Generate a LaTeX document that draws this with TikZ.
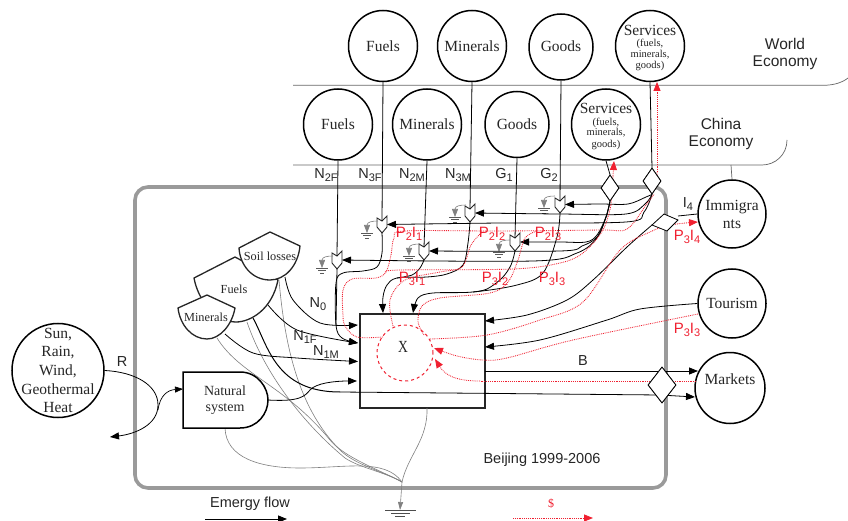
\documentclass[tikz,border=0pt]{standalone}
\usepackage{fontspec}
\setmainfont{Liberation Serif}
\newfontfamily\lsans{Liberation Sans}
\usetikzlibrary{shapes.geometric,arrows.meta}
\definecolor{ink}{HTML}{262626}
\definecolor{rd}{HTML}{F02030}
\definecolor{gr}{HTML}{808080}
\definecolor{frame}{HTML}{9A9A9A}
\newcommand{\ser}{\fontsize{15.5}{18}\selectfont}
\newcommand{\sbs}[1]{\raisebox{-3pt}{\fontsize{11}{10}\selectfont #1}}
\newcommand{\curve}[2][]{\draw[#1] plot[smooth,tension=0.55] coordinates {#2};}
% tick: name, x, top y, bottom y
\newcommand{\ticksym}[4]{%
  \pgfmathsetmacro{\tl}{#2-5}\pgfmathsetmacro{\tr}{#2+5}%
  \pgfmathsetmacro{\tn}{#3+5}\pgfmathsetmacro{\ts}{#4-6}\pgfmathsetmacro{\tm}{(#3+#4)/2}%
  \coordinate (#1b) at (#2,#4);
  \coordinate (#1t) at (#2,\tn);
  \coordinate (#1l) at (\tl,\tm);
  \coordinate (#1r) at (\tr,\tm);
  \draw[line width=.9pt,fill=white,draw=ink] (\tl,#3+2) -- (#2,\tn) -- (\tr,#3) -- (\tr,\ts) -- (#2,#4) -- (\tl,\ts) -- cycle;
}
% small ground: name, x, arrow top y
\newcommand{\smallground}[3]{%
  \coordinate (#1) at (#2,#3);
  \draw[gr,line width=.6pt,-{Triangle[length=8pt,width=6pt]}] (#2+11,#3-3) .. controls (#2+5,#3-3) and (#2,#3-2) .. (#2,#3+9);
  \draw[gr!70!black,line width=.7pt] (#2-6,#3+9) -- (#2+6,#3+9) (#2-4,#3+11.5) -- (#2+4,#3+11.5) (#2-2,#3+14) -- (#2+2,#3+14);
}
\tikzset{
  circ/.style={draw=black,line width=1.5pt,fill=white,ellipse,inner sep=0pt},
  big/.style={circ,minimum width=69pt,minimum height=71pt},
  mid/.style={circ,minimum width=64pt,minimum height=66pt},
  ctext/.style={font=\ser,text=ink,align=center,inner sep=0pt},
  stext/.style={font=\fontsize{10.5}{9.5}\selectfont,text=ink,align=center,inner sep=0pt},
  flow/.style={black,line width=.8pt},
  flowa/.style={flow,-{Triangle[length=9pt,width=7pt]}},
  redf/.style={rd,line width=.85pt,densely dotted},
  reda/.style={redf,-{Triangle[length=9pt,width=7pt]}},
  grayf/.style={gr,line width=.6pt},
  econ/.style={gr!80!black,line width=.7pt},
  tank/.style={draw=ink,line width=1.3pt,fill=white},
  lab/.style={font=\lsans\fontsize{14.5}{16}\selectfont,text=ink,inner sep=0pt},
  rlab/.style={font=\lsans\fontsize{15}{16}\selectfont,text=rd,inner sep=0pt},
  tanktext/.style={font=\fontsize{12.3}{14}\selectfont,text=ink,inner sep=0pt},
  dia/.style={draw=black,line width=.8pt,fill=white,diamond,inner sep=0pt,aspect=.7},
}
\begin{document}
\begin{tikzpicture}[x=1pt,y=-1pt]
\useasboundingbox (0,0) rectangle (848,521);
\fill[white] (0,0) rectangle (848,521);

% region frame
\draw[frame,line width=3.6pt,rounded corners=13pt] (135,187) rectangle (666,488);

% economy boundaries
\draw[econ] (293,85.3) -- (823,85.3) .. controls (835,85.3) and (843,82) .. (848,78);
\draw[econ] (293,165) -- (762,165) .. controls (775,165) and (787,155) .. (787,140);

% sources
\node[big] (wF) at (383,46) {};
\node[big] (wM) at (472,46) {};
\node[mid] (wG) at (561,47) {};
\node[big] (wS) at (650,46) {};
\node[big] (cF) at (338,124.5) {};
\node[big] (cM) at (427,124.5) {};
\node[mid] (cG) at (517,124.5) {};
\node[big] (cS) at (606,124.5) {};
\node[circ,minimum width=68pt,minimum height=68pt] (imm) at (732,214) {};
\node[circ,minimum width=68pt,minimum height=69pt] (tou) at (732,303.5) {};
\node[circ,minimum width=70pt,minimum height=71pt] (mkt) at (730,388) {};
\node[circ,minimum width=92pt,minimum height=94pt] (sun) at (58,370.5) {};
\node[ctext] (wFt) at (383,46) {Fuels};
\node[ctext] (wMt) at (472,46) {Minerals};
\node[ctext] (wGt) at (561,46) {Goods};
\node[ctext] (wSt) at (650,30.5) {Services};
\node[stext] (wSs) at (650,55) {(fuels,\\minerals,\\[2pt]goods)};
\node[ctext] (cFt) at (338,124.5) {Fuels};
\node[ctext] (cMt) at (427,124.5) {Minerals};
\node[ctext] (cGt) at (517,124.5) {Goods};
\node[ctext] (cSt) at (606,108.5) {Services};
\node[stext] (cSs) at (606,133.5) {(fuels,\\minerals,\\[2pt]goods)};
\node[ctext] (immt) at (732,214) {Immigra\\nts};
\node[ctext] (tout) at (732,303.5) {Tourism};
\node[ctext] (mkttext) at (730,379) {Markets};
\node[ctext,font=\fontsize{15.5}{18.7}\selectfont] (suntext) at (58,370.5) {Sun,\\Rain,\\Wind,\\Geothermal\\Heat};
\draw[econ] (731,165) -- (imm.north);

% diamonds
\coordinate (d3w) at (652,225);
\coordinate (d3e) at (678,220);
\node[dia,minimum width=18pt,minimum height=26pt] (D1) at (610,188) {};
\node[dia,minimum width=18pt,minimum height=26pt] (D2) at (652,181) {};
\node[dia,minimum width=28pt,minimum height=36pt] (D4) at (662,385) {};

% ground
\coordinate (gnd) at (400,510);
\coordinate (gj) at (402,482);
\draw[gr!60!black,line width=1pt] (385,510) -- (416,510) (391,513) -- (410,513) (395,516) -- (405,516);

% main box
\node[draw=ink,line width=1.1pt,minimum width=125pt,minimum height=94pt,inner sep=0pt] (X0) at (422.5,361) {};
\node[draw=rd,dashed,line width=1pt,circle,minimum size=56pt,inner sep=0pt] (Xc) at (405,353) {};
\node[font=\fontsize{17}{18}\selectfont,text=ink,xscale=.8,inner sep=0pt] (Xt) at (403,347) {X};

% gray heat sinks
\draw[grayf,-{Triangle[length=8pt,width=5pt]}] (gj) -- (gnd);
\draw[grayf] (427,408) .. controls (428,440) and (408,455) .. (gj);
\draw[grayf] (225,428) .. controls (226,458) and (260,468) .. (300,468) .. controls (345,468) and (385,458) .. (gj);
\draw[grayf] (217,338) .. controls (240,375) and (285,385) .. (330,440) .. controls (345,458) and (380,470) .. (gj);
\draw[grayf] (247,322) .. controls (265,375) and (305,425) .. (345,458) .. controls (360,468) and (385,472) .. (gj);
\draw[grayf] (279,280) .. controls (285,350) and (300,410) .. (340,450) .. controls (355,465) and (385,472) .. (gj);

% connectors from sources to ticks
\ticksym{T1}{337}{251}{269}
\ticksym{T2}{382}{216}{233}
\ticksym{T3}{424}{242}{260}
\ticksym{T4}{470}{204}{222}
\ticksym{T5}{515}{233}{251}
\ticksym{T6}{560}{196}{213}
\draw[flow] (cF.south) -- (T1t);
\draw[flow] (wF.south) -- (T2t);
\draw[flow] (cM.south) -- (T3t);
\draw[flow] (wM.south) -- (T4t);
\draw[flow] (cG.south) -- (T5t);
\draw[flow] (wG.south) -- (T6t);
\draw[flow] (cS.south) -- (D1.north);
\draw[flow] (wS.south) -- (D2.north);
\smallground{G1}{322}{259}
\smallground{G2}{367}{224}
\smallground{G3}{409}{247}
\smallground{G4}{455}{208}
\smallground{G5}{499}{243}
\smallground{G6}{544}{199}

% black fans to ticks
\curve[flowa]{(D2.south) (646,197) (628,204) (600,204) (T6r)}
\curve[flowa]{(D2.south) (645,204) (626,214) (560,214) (T4r)}
\curve[flowa]{(D2.south) (644,212) (626,222) (500,223) (T2r)}
\curve[flowa]{(D1.south) (606,217) (597,235) (586,242) (560,242) (T5r)}
\curve[flowa]{(D1.south) (606,217) (597,237) (582,246) (560,251) (T3r)}
\curve[flowa]{(D1.south) (606,217) (597,238) (577,253) (533,261) (T1r)}

% ticks to box
\curve[flow]{(T3b) (420,268) (412,275) (397,278)}
\curve[flowa]{(T4b) (468,243) (463,265) (447,274) (427,277) (397,278) (387,285) (383,297) (383,313)}
\curve[flow]{(T5b) (511,265) (502,278) (487,289) (473,292)}
\curve[flowa]{(T6b) (557,237) (543,273) (517,285) (473,292) (433,293) (418,298) (413,313)}
\curve[flowa]{(T2b) (382,253) (377,267) (363,271) (343,273) (336,283) (336,325) (342,338) (358,343)}
\draw[flow] (T1b) -- (336,325);

% storages outflows
\curve[flowa]{(285,277) (293,300) (320,323) (358,325)}
\curve[flowa]{(268,305) (297,330) (358,343)}
\curve[flowa]{(225,334) (253,353) (297,358) (358,361.5)}
\draw[flowa] (268,400) .. controls (300,402) and (305,396) .. (310,390) .. controls (316,383) and (335,381) .. (357,381);
\draw[flow,line width=1pt] (253,318) .. controls (268,345) and (275,392) .. (340,392);
\draw[flowa] (340,392) -- (660,395) -- (695,397);
\draw[flowa] (485,371) -- (698,371);

% sources R
\draw[flowa] (sun.east) .. controls (135,372) and (158,385) .. (158,405) .. controls (158,425) and (135,434) .. (110,437);
\draw[flow,line width=.7pt,-{Triangle[length=8pt,width=6pt]}] (158,410) .. controls (160,395) and (168,390) .. (183,389);

% immigrants and tourism flows
\curve[flowa]{(d3w) (627,247) (593,280) (567,300) (527,315) (485,321)}
\draw[flow] (imm.west) -- (678,216);
\curve[flowa]{(tou.west) (640,309) (607,320) (540,340) (485,347)}

% red money flows
\curve[redf]{(383,337) (357,337) (345,326) (343,315) (343,290) (352,279) (376,278) (386,272) (391,255) (394,238) (405,231) (500,231) (600,230) (627,229) (646,205) (654,194)}
\curve[redf]{(386,272) (400,270) (513,269) (560,263) (583,253) (603,230) (611,205)}
\curve[redf]{(393,326) (390,300) (405,280) (440,272) (462,267) (471,245) (482,232)}
\curve[redf]{(424,335) (418,322) (422,306) (440,298) (490,293) (508,282) (518,260) (525,238) (537,231)}
\draw[reda] (613,176) -- (614,161);
\draw[reda] (657,172) -- (657,82);
\draw[redf] (611,205) -- (613,176);
\draw[redf] (656,188) -- (657,172);
\curve[reda]{(430,339) (487,335) (540,320) (583,302) (620,250) (650,232) (670,225) (698,222)}
\curve[reda]{(698,314) (573,340) (507,358) (483,360) (457,356) (434,348)}
\draw[redf] (696,381) -- (480,381);
\draw[reda] (480,381) .. controls (455,381) and (445,375) .. (435,359);

% diamonds over flows
\node[dia,minimum width=18pt,minimum height=26pt] (D1b) at (D1) {};
\node[dia,minimum width=18pt,minimum height=26pt] (D2b) at (D2) {};
\node[dia,minimum width=28pt,minimum height=36pt] (D4b) at (D4) {};
\draw[line width=.8pt,fill=white] (d3w) -- (664,214) -- (d3e) -- (667,231) -- cycle;

% storages
\draw[tank] (194,278) -- (235,257) -- (278,280) .. controls (272,310) and (250,322) .. (236,322) .. controls (215,322) and (198,300) .. (194,278) -- cycle;
\node[tanktext] (fuelst) at (234,289) {Fuels};
\draw[tank] (239,248) -- (270,232) -- (300,246) .. controls (298,266) and (285,280) .. (270,280) .. controls (252,280) and (240,265) .. (239,248) -- cycle;
\node[tanktext] (soilt) at (270,256) {Soil losses};
\draw[tank] (178,308) -- (207,295) -- (235,308) .. controls (232,325) and (220,339) .. (207,339) .. controls (192,339) and (180,325) .. (178,308) -- cycle;
\node[tanktext] (minert) at (206,317) {Minerals};
\draw[line width=1.5pt,fill=white] (183,372) -- (240,372) .. controls (258,372) and (268,388) .. (268,400) .. controls (268,413) and (258,428) .. (240,428) -- (183,428) -- cycle;
\node[font=\fontsize{14}{16.5}\selectfont,text=ink,align=center,inner sep=0pt] (nat) at (225,400) {Natural\\system};

% labels
\node[font=\lsans\fontsize{15.5}{17.5}\selectfont,text=ink,align=center,inner sep=0pt] (we) at (785,54) {World\\Economy};
\node[font=\lsans\fontsize{15.5}{17.5}\selectfont,text=ink,align=center,inner sep=0pt] (ce) at (721,134) {China\\Economy};
\node[lab] (l1) at (326,175) {N\sbs{2F}};
\node[lab] (l2) at (370,175) {N\sbs{3F}};
\node[lab] (l3) at (412,175) {N\sbs{2M}};
\node[lab] (l4) at (458,175) {N\sbs{3M}};
\node[lab] (l5) at (504,175) {G\sbs{1}};
\node[lab] (l6) at (549,175) {G\sbs{2}};
\node[lab] (l7) at (318,304) {N\sbs{0}};
\node[lab] (l8) at (305,337) {N\sbs{1F}};
\node[lab] (l9) at (326,352) {N\sbs{1M}};
\node[lab] (l10) at (688,204) {I\sbs{4}};
\node[lab] (l11) at (583,361) {B};
\node[lab] (l12) at (122,362) {R};
\node[rlab] (r1) at (409,234) {P\sbs{2}I\sbs{1}};
\node[rlab] (r2) at (492,234) {P\sbs{2}I\sbs{2}};
\node[rlab] (r3) at (548,234) {P\sbs{2}I\sbs{3}};
\node[rlab] (r4) at (412,279) {P\sbs{3}I\sbs{1}};
\node[rlab] (r5) at (495,279) {P\sbs{3}I\sbs{2}};
\node[rlab] (r6) at (552,279) {P\sbs{3}I\sbs{3}};
\node[rlab] (r7) at (687,237) {P\sbs{3}I\sbs{4}};
\node[rlab] (r8) at (687,330) {P\sbs{3}I\sbs{3}};
\node[lab] (bj) at (542,460) {Beijing 1999-2006};

% legend
\node[lab] (leg1) at (250,504) {Emergy flow};
\coordinate (leg1a) at (205,519);
\coordinate (leg1b) at (287,519);
\draw[flowa] (leg1a) -- (leg1b);
\node[font=\fontsize{12}{14}\selectfont,text=rd,inner sep=0pt] (leg2) at (551,504) {\$};
\coordinate (leg2a) at (513,518);
\coordinate (leg2b) at (593,518);
\draw[reda] (leg2a) -- (leg2b);
\end{tikzpicture}
\end{document}
